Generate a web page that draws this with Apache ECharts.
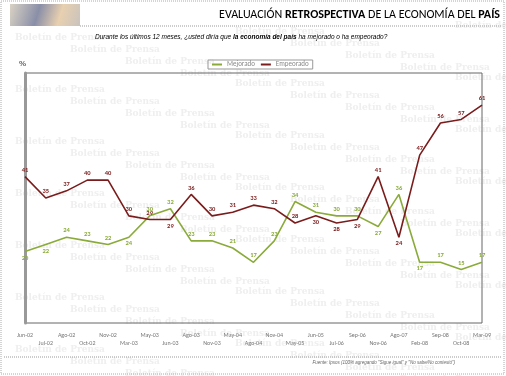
<!DOCTYPE html>
<html style="height: 100%">
<head>
  <meta charset="utf-8">
</head>
<body style="height: 100%; margin: 0; background: #fff">
  <div id="container" style="width: 506px; height: 376px"></div>
  <script type="text/javascript" src="https://cdn.jsdelivr.net/npm/echarts@6/dist/echarts.min.js"></script>
  <script type="text/javascript">
  var months = ['Jun-02', 'Jul-02', 'Ago-02', 'Oct-02', 'Nov-02', 'Mar-03', 'May-03', 'Jun-03',
    'Ago-03', 'Nov-03', 'May-04', 'Ago-04', 'Nov-04', 'May-05', 'Jun-05', 'Jul-06', 'Sep-06',
    'Nov-06', 'Ago-07', 'Feb-08', 'Sep-08', 'Oct-08', 'Mar-09'];
  var mejorado = [20, 22, 24, 23, 22, 24, 30, 32, 23, 23, 21, 17, 23, 34, 31, 30, 30, 27, 36, 17, 17, 15, 17];
  var empeorado = [41, 35, 37, 40, 40, 30, 29, 29, 36, 30, 31, 33, 32, 28, 30, 28, 29, 41, 24, 47, 56, 57, 61];

  // label placement per point (t = above, b = below)
  var mejPos = 'bbtttbtttttttttttbtbttt';
  var empPos = 'tttttttbttttttbbbtbtttt';

  var RED = '#7b1c1c';
  var GREEN = '#8aab3a';

  function points(values, pos, color) {
    return values.map(function (v, i) {
      return {
        value: v,
        label: { position: pos[i] === 't' ? 'top' : 'bottom', distance: 3, color: color }
      };
    });
  }

  var dom = document.getElementById('container');
  var myChart = echarts.init(dom);

  // faint "Boletín de Prensa" background watermark
  var marks = [];
  for (var r = 0; r < 7; r++) {
    for (var c = 0; c < 4; c++) {
      for (var k = 0; k < 4; k++) {
        marks.push({
          type: 'text',
          silent: true,
          z: -10,
          x: 15 + k * 55 + c * 220,
          y: 33 + k * 12 + r * 52 - c * 6,
          style: { text: 'Boletín de Prensa', fill: '#efefef', font: 'bold 9px "DejaVu Serif"' }
        });
      }
    }
  }

  var option = {
    animation: false,
    textStyle: { fontFamily: 'Calibri, Carlito, "Open Sans", sans-serif' },
    grid: {
      left: 25, right: 24, top: 73, bottom: 53,
      show: true, borderColor: '#666', borderWidth: 1
    },
    legend: {
      top: 60, left: 208,
      itemWidth: 10, itemHeight: 2, itemGap: 6,
      padding: [1, 4], borderColor: '#999', borderWidth: 1,
      icon: 'rect',
      textStyle: { fontSize: 7, color: '#888' },
      data: ['Mejorado', 'Empeorado']
    },
    xAxis: {
      type: 'category',
      data: months,
      boundaryGap: false,
      axisLine: { show: false },
      axisTick: { show: false },
      axisLabel: {
        interval: 0, fontSize: 6, color: '#777', margin: 8, lineHeight: 8,
        formatter: function (v, i) { return i % 2 ? '\n' + v : v; }
      }
    },
    yAxis: {
      type: 'value', min: 0, max: 70, interval: 10,
      axisLine: { show: true, lineStyle: { color: '#999', width: 3 } },
      axisLabel: { show: false },
      axisTick: { show: false },
      splitLine: { show: false }
    },
    graphic: marks.concat([
      { type: 'rect', shape: { x: 1, y: 1, width: 503, height: 373 },
        style: { fill: 'none', stroke: '#aaa', lineWidth: 1, lineDash: [1, 1] } },
      { type: 'rect', shape: { x: 10, y: 4, width: 70, height: 22 },
        style: { fill: new echarts.graphic.LinearGradient(0, 0, 1, 1, [
          { offset: 0, color: '#d9d2c4' }, { offset: 0.4, color: '#8a8fa8' },
          { offset: 0.7, color: '#e8d0b0' }, { offset: 1, color: '#c9c3bd' }]) } },
      { type: 'line', shape: { x1: 80, y1: 26, x2: 502, y2: 26 },
        style: { stroke: '#999', lineWidth: 1, lineDash: [1, 1] } },
      { type: 'text', x: 500, y: 15,
        style: {
          text: '{n|EVALUACIÓN }{b|RETROSPECTIVA}{n| DE LA ECONOMÍA DEL }{b|PAÍS}',
          align: 'right', verticalAlign: 'middle',
          rich: {
            n: { fontSize: 12, color: '#8a8a8a', fontFamily: 'Calibri, Carlito, "Open Sans", sans-serif' },
            b: { fontSize: 12, color: '#6a6a6a', fontWeight: 'bold', fontFamily: 'Calibri, Carlito, "Open Sans", sans-serif' }
          }
        } },
      { type: 'text', x: 95, y: 37,
        style: {
          text: '{n|Durante los últimos 12 meses, ¿usted diría que }{b|la economía del país}{n| ha mejorado o ha empeorado?}',
          verticalAlign: 'middle',
          rich: {
            n: { fontSize: 6.5, fontStyle: 'italic', color: '#555' },
            b: { fontSize: 6.5, fontStyle: 'italic', fontWeight: 'bold', color: '#333' }
          }
        } },
      { type: 'text', x: 19, y: 60,
        style: { text: '%', fontSize: 8, fontWeight: 'bold', fill: '#666' } },
      { type: 'line', shape: { x1: 4, y1: 357, x2: 501, y2: 357 },
        style: { stroke: '#999', lineWidth: 1, lineDash: [1, 1] } },
      { type: 'text', x: 455, y: 363,
        style: {
          text: 'Fuente: Ipsos (100% agregando "Sigue igual" y "No sabe/No contestó")',
          align: 'right', verticalAlign: 'middle', fontSize: 4.5, fontStyle: 'italic', fill: '#666'
        } }
    ]),
    series: [
      {
        name: 'Mejorado', type: 'line',
        data: points(mejorado, mejPos, GREEN),
        symbol: 'circle', symbolSize: 0.1, showSymbol: true,
        lineStyle: { color: GREEN, width: 1.6 },
        itemStyle: { color: GREEN },
        label: { show: true, fontSize: 6.5, fontWeight: 'bold' }
      },
      {
        name: 'Empeorado', type: 'line',
        data: points(empeorado, empPos, RED),
        symbol: 'circle', symbolSize: 0.1, showSymbol: true,
        lineStyle: { color: RED, width: 1.6 },
        itemStyle: { color: RED },
        label: { show: true, fontSize: 6.5, fontWeight: 'bold' }
      }
    ]
  };

  myChart.setOption(option);
  </script>
</body>
</html>
